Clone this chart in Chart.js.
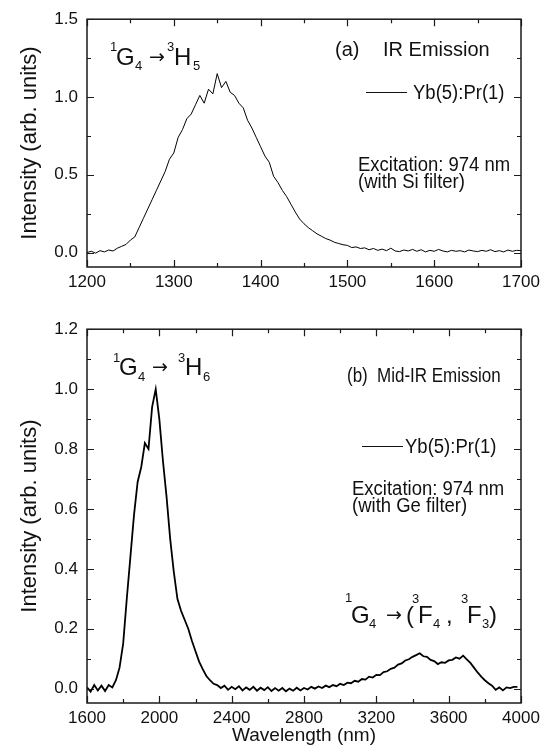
<!DOCTYPE html>
<html>
<head>
<meta charset="utf-8">
<script src="https://cdn.jsdelivr.net/npm/chart.js@4.4.1/dist/chart.umd.min.js"></script>
<style>
  html, body { margin: 0; padding: 0; background: #fff; }
  #wrap { position: relative; width: 549px; height: 752px; }
  canvas { position: absolute; left: 0; }
  #topChart { top: 0; }
  #bottomChart { top: 310px; }
</style>
</head>
<body>
<div id="wrap">
  <canvas id="topChart" width="549" height="310"></canvas>
  <canvas id="bottomChart" width="549" height="442"></canvas>
</div>
<script>
var FONT = "'Liberation Sans', Arial, Helvetica, sans-serif";
var ARROW_FONT = "'DejaVu Sans', sans-serif";

// (a) IR emission, 1G4 -> 3H5
var topWavelength = [
  1200,1205,1210,1215,1220,1225,1230,1235,1240,1245,
  1250,1255,1260,1265,1270,1275,1280,1285,1290,1295,
  1300,1305,1310,1315,1320,1325,1330,1335,1340,1345,
  1350,1355,1360,1365,1370,1375,1380,1385,1390,1395,
  1400,1405,1410,1415,1420,1425,1430,1435,1440,1445,
  1450,1455,1460,1465,1470,1475,1480,1485,1490,1495,
  1500,1505,1510,1515,1520,1525,1530,1535,1540,1545,
  1550,1555,1560,1565,1570,1575,1580,1585,1590,1595,
  1600,1605,1610,1615,1620,1625,1630,1635,1640,1645,
  1650,1655,1660,1665,1670,1675,1680,1685,1690,1695,
  1700
];
var topIntensity = [
  0.000,0.008,-0.004,0.012,0.004,0.016,0.010,0.028,0.040,0.052,
  0.080,0.100,0.160,0.220,0.280,0.340,0.400,0.460,0.520,0.600,
  0.640,0.740,0.790,0.860,0.890,0.950,1.010,0.960,1.050,1.020,
  1.150,1.060,1.100,1.030,1.010,0.960,0.930,0.850,0.800,0.740,
  0.680,0.620,0.580,0.490,0.450,0.400,0.360,0.310,0.260,0.215,
  0.185,0.160,0.140,0.120,0.105,0.090,0.080,0.066,0.058,0.050,
  0.046,0.032,0.036,0.026,0.030,0.018,0.026,0.014,0.022,0.012,
  0.028,0.010,0.006,0.016,0.010,0.020,0.008,0.018,0.004,0.014,
  0.008,0.020,0.010,0.004,0.014,0.008,0.012,0.004,0.016,0.010,
  0.006,0.014,0.008,0.018,0.006,0.012,0.004,0.016,0.008,0.014,
  0.012
];

// (b) mid-IR emission, 1G4 -> 3H6 and 1G4 -> (3F4, 3F3)
var bottomWavelength = [
  1600,1620,1640,1660,1680,1700,1720,1740,1760,1780,
  1800,1820,1840,1860,1880,1900,1920,1940,1960,1980,
  2000,2020,2040,2060,2080,2100,2120,2140,2160,2180,
  2200,2220,2240,2260,2280,2300,2320,2340,2360,2380,
  2400,2420,2440,2460,2480,2500,2520,2540,2560,2580,
  2600,2620,2640,2660,2680,2700,2720,2740,2760,2780,
  2800,2820,2840,2860,2880,2900,2920,2940,2960,2980,
  3000,3020,3040,3060,3080,3100,3120,3140,3160,3180,
  3200,3220,3240,3260,3280,3300,3320,3340,3360,3380,
  3400,3420,3440,3460,3480,3500,3520,3540,3560,3580,
  3600,3620,3640,3660,3680,3700,3720,3740,3760,3780,
  3800,3820,3840,3860,3880,3900,3920,3940,3960,3980
];
var bottomIntensity = [
  0.004,-0.010,0.012,-0.006,0.010,-0.008,0.012,0.004,0.028,0.070,
  0.150,0.300,0.440,0.580,0.690,0.740,0.820,0.800,0.940,1.000,
  0.900,0.760,0.640,0.500,0.390,0.300,0.260,0.230,0.200,0.160,
  0.125,0.090,0.065,0.042,0.028,0.016,0.012,0.002,0.010,-0.004,
  0.006,-0.002,0.008,-0.006,0.004,-0.004,0.006,-0.007,0.003,-0.005,
  0.005,-0.008,0.002,-0.007,0.002,-0.009,0.000,-0.007,0.003,-0.006,
  0.002,-0.003,0.006,0.000,0.007,0.002,0.010,0.005,0.012,0.008,
  0.016,0.012,0.020,0.018,0.026,0.023,0.032,0.030,0.040,0.037,
  0.046,0.045,0.055,0.058,0.066,0.070,0.080,0.084,0.094,0.098,
  0.106,0.112,0.118,0.108,0.106,0.096,0.092,0.082,0.088,0.086,
  0.094,0.096,0.104,0.100,0.110,0.098,0.086,0.070,0.054,0.040,
  0.028,0.018,0.010,-0.004,0.004,-0.006,0.004,0.002,0.006,0.006
];

// tick values
var topXMajor = [1200, 1300, 1400, 1500, 1600, 1700];
var topXMinor = [1250, 1350, 1450, 1550, 1650];
var topYMajor = [0.0, 0.5, 1.0, 1.5];
var topYMinor = [0.25, 0.75, 1.25];
var bottomXMajor = [1600, 2000, 2400, 2800, 3200, 3600, 4000];
var bottomXMinor = [1800, 2200, 2600, 3000, 3400, 3800];
var bottomYMajor = [0.0, 0.2, 0.4, 0.6, 0.8, 1.0, 1.2];
var bottomYMinor = [0.1, 0.3, 0.5, 0.7, 0.9, 1.1];

function toPoints(xs, ys) {
  return xs.map(function(x, i) { return { x: x, y: ys[i] }; });
}

// box round the plot with inward major/minor ticks on all four sides
var framePlugin = {
  id: 'frame',
  afterDraw: function(chart, args, opts) {
    var ctx = chart.ctx, a = chart.chartArea;
    var xs = chart.scales.x, ys = chart.scales.y;
    ctx.save();
    ctx.strokeStyle = '#1a1a1a';
    ctx.lineWidth = 1.5;
    ctx.strokeRect(a.left, a.top, a.right - a.left, a.bottom - a.top);
    ctx.lineWidth = 1.2;
    function xTicks(vals, len) {
      vals.forEach(function(v) {
        var px = Math.round(xs.getPixelForValue(v)) + 0.5;
        ctx.beginPath();
        ctx.moveTo(px, a.bottom); ctx.lineTo(px, a.bottom - len);
        ctx.moveTo(px, a.top); ctx.lineTo(px, a.top + len);
        ctx.stroke();
      });
    }
    function yTicks(vals, len) {
      vals.forEach(function(v) {
        var py = Math.round(ys.getPixelForValue(v)) + 0.5;
        ctx.beginPath();
        ctx.moveTo(a.left, py); ctx.lineTo(a.left + len, py);
        ctx.moveTo(a.right, py); ctx.lineTo(a.right - len, py);
        ctx.stroke();
      });
    }
    xTicks(opts.xMajor, 7); xTicks(opts.xMinor, 4);
    yTicks(opts.yMajor, 7); yTicks(opts.yMinor, 4);
    ctx.restore();
  }
};

// text runs: [text, x, baseline, size, family?, vertical stretch?]
function drawRuns(ctx, runs) {
  ctx.save();
  ctx.fillStyle = '#111';
  ctx.textBaseline = 'alphabetic';
  ctx.textAlign = 'left';
  runs.forEach(function(r) {
    ctx.font = r[3] + 'px ' + (r[4] || FONT);
    ctx.save();
    ctx.translate(r[1], r[2]);
    ctx.scale(1, r[5] || 1);
    ctx.fillText(r[0], 0, 0);
    ctx.restore();
  });
  ctx.restore();
}

function legendLine(ctx, x1, x2, y) {
  ctx.save();
  ctx.strokeStyle = '#111';
  ctx.lineWidth = 1;
  ctx.beginPath();
  ctx.moveTo(x1, y + 0.5); ctx.lineTo(x2, y + 0.5);
  ctx.stroke();
  ctx.restore();
}

var topNotes = {
  id: 'topNotes',
  afterDraw: function(chart) {
    var ctx = chart.ctx;
    drawRuns(ctx, [
      ['1', 110, 51, 13], ['G', 116, 65, 24], ['4', 135, 70, 13],
      ['\u2192', 149, 63, 19, ARROW_FONT],
      ['3', 167, 51, 13], ['H', 174, 65, 24], ['5', 193, 70, 13],
      ['(a)', 335, 56, 20], ['IR Emission', 383, 56, 20],
      ['Yb(5):Pr(1)', 413, 99, 18.5, null, 1.06],
      ['Excitation: 974 nm', 358, 171, 18.5, null, 1.06],
      ['(with Si filter)', 358, 188, 18.5, null, 1.06]
    ]);
    legendLine(ctx, 366, 407, 92);
  }
};

var bottomNotes = {
  id: 'bottomNotes',
  afterDraw: function(chart) {
    var ctx = chart.ctx;
    drawRuns(ctx, [
      ['1', 113, 52, 13], ['G', 119, 65, 24], ['4', 138, 71, 13],
      ['\u2192', 152, 63, 19, ARROW_FONT],
      ['3', 178, 52, 13], ['H', 185, 65, 24], ['6', 203, 71, 13],
      ['(b)', 347, 72, 17, null, 1.2], ['Mid-IR Emission', 377, 72, 17, null, 1.2],
      ['Yb(5):Pr(1)', 405, 143, 18.5, null, 1.06],
      ['Excitation: 974 nm', 352, 185, 18.5, null, 1.06],
      ['(with Ge filter)', 352, 202, 18.5, null, 1.06],
      ['1', 345, 292, 13], ['G', 351, 313, 24], ['4', 369, 318, 13],
      ['\u2192', 386, 311, 19, ARROW_FONT],
      ['(', 406, 313, 24], ['3', 412, 293, 13], ['F', 418, 313, 24], ['4', 433, 318, 13],
      [',', 446, 313, 24],
      ['3', 461, 293, 13], ['F', 467, 313, 24], ['3', 482, 318, 13], [')', 489, 313, 24]
    ]);
    legendLine(ctx, 362, 403, 136);
  }
};

function makeChart(id, cfg) {
  return new Chart(document.getElementById(id), {
    type: 'line',
    data: {
      datasets: [{
        data: toPoints(cfg.xs, cfg.ys),
        borderColor: '#000',
        borderWidth: cfg.lineWidth,
        pointRadius: 0,
        tension: 0,
        fill: false
      }]
    },
    options: {
      responsive: false,
      animation: false,
      devicePixelRatio: 1,
      layout: { padding: { left: 0, right: 28, top: cfg.padTop, bottom: 0 } },
      plugins: {
        legend: { display: false },
        tooltip: { enabled: false },
        frame: { xMajor: cfg.xMajor, xMinor: cfg.xMinor, yMajor: cfg.yMajor, yMinor: cfg.yMinor }
      },
      scales: {
        x: {
          type: 'linear',
          min: cfg.xMin, max: cfg.xMax,
          afterBuildTicks: function(s) { s.ticks = cfg.xMajor.map(function(v) { return { value: v }; }); },
          afterFit: function(s) { s.height = cfg.xHeight; },
          grid: { display: false, drawTicks: false },
          border: { display: false },
          ticks: { padding: 5, color: '#111', font: { family: FONT, size: 17 }, maxRotation: 0, autoSkip: false,
                   callback: function(v) { return String(v); } },
          title: cfg.xTitle ? { display: true, text: cfg.xTitle, color: '#111', font: { family: FONT, size: 19 }, padding: { top: 0, bottom: 5 } } : { display: false }
        },
        y: {
          type: 'linear',
          min: cfg.yMin, max: cfg.yMax,
          afterBuildTicks: function(s) { s.ticks = cfg.yMajor.map(function(v) { return { value: v }; }); },
          afterFit: function(s) { s.width = 87; },
          grid: { display: false, drawTicks: false },
          border: { display: false },
          ticks: { padding: 9, color: '#111', font: { family: FONT, size: 17 }, callback: function(v) { return Number(v).toFixed(1); } },
          title: { display: true, text: 'Intensity (arb. units)', color: '#111', font: { family: FONT, size: 22 }, padding: { top: 17, bottom: 0 } }
        }
      }
    },
    plugins: [framePlugin, cfg.notes]
  });
}

makeChart('topChart', {
  xs: topWavelength, ys: topIntensity, lineWidth: 1,
  xMin: 1200, xMax: 1700, yMin: -0.093, yMax: 1.5,
  xMajor: topXMajor, xMinor: topXMinor, yMajor: topYMajor, yMinor: topYMinor,
  padTop: 16, xHeight: 43, notes: topNotes
});

makeChart('bottomChart', {
  xs: bottomWavelength, ys: bottomIntensity, lineWidth: 1.8,
  xMin: 1600, xMax: 4000, yMin: -0.048, yMax: 1.2,
  xMajor: bottomXMajor, xMinor: bottomXMinor, yMajor: bottomYMajor, yMinor: bottomYMinor,
  padTop: 18, xHeight: 49, xTitle: 'Wavelength (nm)', notes: bottomNotes
});
</script>
</body>
</html>
